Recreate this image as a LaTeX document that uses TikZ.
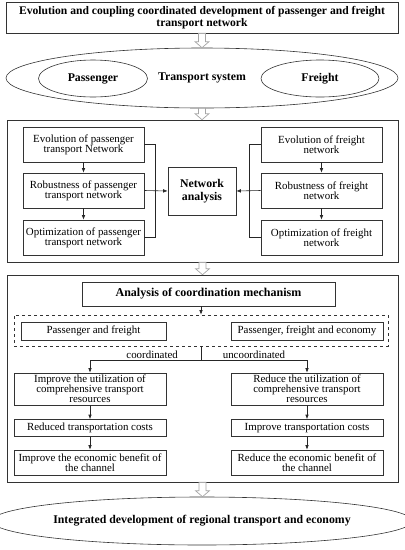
\documentclass[tikz,border=0pt]{standalone}
\usepackage{fontspec}
\setmainfont{Liberation Serif}
\usetikzlibrary{arrows.meta,calc,shapes.geometric}
\newcommand{\hollowdown}[2]{%
  \path[draw=black!35, fill=white, line width=0.7pt] let \p1=(#1.south), \p2=(#2.north) in
    (\x1-3.5pt,\y1) -- (\x1-3.5pt,\y2+6pt) -- (\x1-7pt,\y2+6pt) -- (\x1,\y2)
    -- (\x1+7pt,\y2+6pt) -- (\x1+3.5pt,\y2+6pt) -- (\x1+3.5pt,\y1) -- cycle;}
\begin{document}
\begin{tikzpicture}[x=1pt,y=-1pt]
			\tikzstyle{box}=[draw=black!80, line width=0.6pt, align=center, inner sep=1pt, font=\fontsize{10.9}{10.2}\selectfont]
			\tikzstyle{bbox}=[box, font=\fontsize{12}{12.5}\selectfont\bfseries]
			\tikzstyle{oval}=[draw=black!80, line width=0.6pt, ellipse, inner sep=0pt, align=center, font=\fontsize{11.8}{12}\selectfont\bfseries]
			\tikzstyle{pbox}=[box, minimum width=121, minimum height=35]
			\tikzstyle{cbox}=[box, minimum width=152]
			\tikzstyle{lbl}=[font=\fontsize{10.9}{10}\selectfont, inner sep=1.5pt]
			\tikzstyle{arr}=[draw=black!85, line width=0.6pt, -{Latex[length=4.5pt,width=3.5pt]}]
			\useasboundingbox (0,0) rectangle (405,550);
			\path (202,17.5) node[bbox, font=\fontsize{11.6}{12}\selectfont\bfseries, minimum width=392, minimum height=31] (top) {Evolution and coupling coordinated development of passenger and freight\\transport network}
			      (202,78) node[oval, minimum width=392, minimum height=60] (sys) {Transport system}
			      (93,78.5) node[oval, minimum width=109, minimum height=37] (pas) {Passenger}
			      (320,78.5) node[oval, minimum width=118, minimum height=37] (fre) {Freight}
			      (202.5,191) node[box, minimum width=391, minimum height=142] (netframe) {}
			      (83.5,144.5) node[pbox] (pe) {Evolution of passenger\\transport Network}
			      (83.5,190.5) node[pbox] (pr) {Robustness of passenger\\transport network}
			      (83.5,237.5) node[pbox] (po) {Optimization of passenger\\transport network}
			      (321.5,144.5) node[pbox] (fe) {Evolution of freight\\network}
			      (321.5,190.5) node[pbox] (fr) {Robustness of freight\\network}
			      (321.5,237.5) node[pbox] (fo) {Optimization of freight\\network}
			      (202,191) node[bbox, font=\fontsize{11.8}{13}\selectfont\bfseries, minimum width=68, minimum height=48] (na) {Network\\analysis}
			      (202.5,378.5) node[box, minimum width=391, minimum height=207] (mechframe) {}
			      (208.5,294) node[bbox, minimum width=253, minimum height=24] (am) {Analysis of coordination mechanism}
			      (201,330.5) node[box, dashed, minimum width=374, minimum height=31] (pair) {}
			      (93.5,331) node[box, minimum width=145, minimum height=18] (pf) {Passenger and freight}
			      (307,331) node[box, minimum width=152, minimum height=18] (pfe) {Passenger, freight and economy}
			      (90,389) node[cbox, minimum height=32] (ca) {Improve the utilization of\\comprehensive transport\\resources}
			      (90,428) node[cbox, minimum height=17] (cb) {Reduced transportation costs}
			      (90,462.5) node[cbox, minimum height=25] (cc) {Improve the economic benefit of\\the channel}
			      (307,389) node[cbox, minimum height=32] (ua) {Reduce the utilization of\\comprehensive transport\\resources}
			      (307,428) node[cbox, minimum height=17] (ub) {Improve transportation costs}
			      (307,462.5) node[cbox, minimum height=25] (uc) {Reduce the economic benefit of\\the channel}
			      (202,521) node[oval, font=\fontsize{11.8}{12}\selectfont\bfseries, minimum width=392, minimum height=48] (goal) {Integrated development of regional transport and economy};
			\hollowdown{top}{sys}
			\hollowdown{sys}{netframe}
			\hollowdown{netframe}{mechframe}
			\hollowdown{mechframe}{goal}
			\draw[arr] (pe) -- (pr);
			\draw[arr] (pr) -- (po);
			\draw[arr] (fe) -- (fr);
			\draw[arr] (fr) -- (fo);
			\draw[draw=black!85, line width=0.6pt] (pe.east) -- ++(11,0) |- (po.east);
			\draw[draw=black!85, line width=0.6pt] (fe.west) -- ++(-11,0) |- (fo.west);
			\draw[arr] (pr.east) -- (na.west);
			\draw[arr] (fr.west) -- (na.east);
			\draw[arr] (am.south -| pair.north) -- (pair.north);
			\draw[draw=black!85, line width=0.6pt] (pair.south) -- ++(0,14) coordinate (split);
			\draw[arr] (split) -| node[lbl, pos=0.22, above] {coordinated} (ca.north);
			\draw[arr] (split) -| node[lbl, pos=0.25, above] {uncoordinated} (ua.north);
			\draw[arr] (ca) -- (cb);
			\draw[arr] (cb) -- (cc);
			\draw[arr] (ua) -- (ub);
			\draw[arr] (ub) -- (uc);
\end{tikzpicture}
\end{document}
